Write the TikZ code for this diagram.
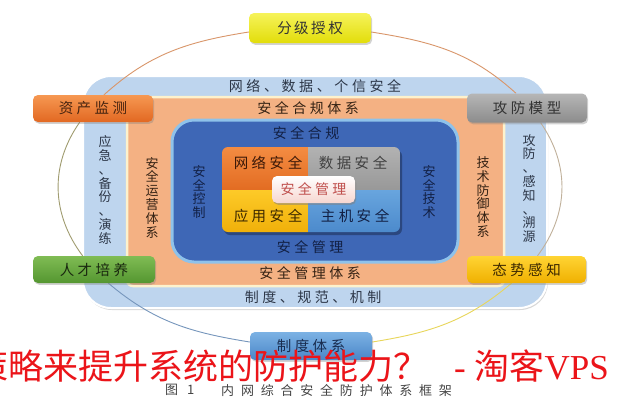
\documentclass[tikz,border=0pt]{standalone}
\usepackage{fontspec}
\newfontfamily\cjk{Noto Sans CJK SC}
\newfontfamily\lserif{Liberation Serif}
\usetikzlibrary{shadows}
\pgfdeclarelayer{base}
\pgfdeclarelayer{arcs}
\pgfsetlayers{base,arcs,main}
\definecolor{lblue}{RGB}{190,213,238}
\definecolor{peach}{RGB}{244,177,131}
\definecolor{cream}{RGB}{253,242,205}
\definecolor{dkblue}{RGB}{62,103,182}
\definecolor{dkbord}{RGB}{143,194,234}
\definecolor{q1t}{RGB}{244,140,66}
\definecolor{q1b}{RGB}{226,108,34}
\definecolor{q2t}{RGB}{178,178,178}
\definecolor{q2b}{RGB}{152,152,152}
\definecolor{q3t}{RGB}{253,202,40}
\definecolor{q3b}{RGB}{240,176,10}
\definecolor{q4t}{RGB}{104,165,222}
\definecolor{q4b}{RGB}{76,138,204}
\definecolor{fjt}{RGB}{246,243,90}
\definecolor{fjb}{RGB}{226,221,10}
\definecolor{zct}{RGB}{246,152,82}
\definecolor{zcb}{RGB}{226,104,34}
\definecolor{gft}{RGB}{182,182,182}
\definecolor{gfb}{RGB}{140,140,140}
\definecolor{rct}{RGB}{128,188,84}
\definecolor{rcb}{RGB}{84,150,48}
\definecolor{tst}{RGB}{255,212,52}
\definecolor{tsb}{RGB}{240,176,0}
\definecolor{zdt}{RGB}{124,178,228}
\definecolor{zdb}{RGB}{74,134,200}
\definecolor{pinkb}{RGB}{246,214,208}
\definecolor{redt}{RGB}{192,80,77}
\definecolor{lbtx}{RGB}{45,55,72}
\definecolor{pctx}{RGB}{52,34,20}
\definecolor{dbtx}{RGB}{18,32,68}
\definecolor{arcA}{RGB}{217,150,106}
\definecolor{arcC}{RGB}{192,176,154}
\definecolor{arcD}{RGB}{232,214,90}
\definecolor{arcE}{RGB}{118,150,188}
\definecolor{arcF}{RGB}{160,156,112}
\definecolor{captx}{RGB}{68,68,68}
\definecolor{wmred}{RGB}{235,20,25}
\ExplSyntaxOn
\NewDocumentCommand\spx{ m m }
 {
  \bool_set_true:N \l_tmpa_bool
  \tl_map_inline:nn {#2}
   {
    \bool_if:NTF \l_tmpa_bool { \bool_set_false:N \l_tmpa_bool } { \kern #1 \relax }
    ##1
   }
 }
\ExplSyntaxOff
\begin{document}
\begin{tikzpicture}[x=1pt,y=-1pt,
  bx/.style={rounded corners=5pt, minimum width=120pt, minimum height=28pt, inner sep=0pt,
    font=\cjk\fontsize{14.5}{14.5}\selectfont,
    drop shadow={opacity=0.35,shadow xshift=1.2pt,shadow yshift=-1.8pt}},
  lab/.style={inner sep=0pt, font=\cjk\fontsize{14}{14}\selectfont},
  qlab/.style={inner sep=0pt, font=\cjk\fontsize{14.5}{14.5}\selectfont},
  vlab/.style={inner sep=0pt, align=center, font=\cjk\fontsize{13}{13.8}\selectfont},
  arcline/.style={line width=0.9pt}]
\useasboundingbox (0,0) rectangle (620,400);
\begin{pgfonlayer}{base}
\fill[white] (0,0) rectangle (620,400);
\path[fill=lblue, draw=white, line width=2pt, rounded corners=28pt,
  drop shadow={opacity=0.3,shadow xshift=1pt,shadow yshift=-2pt}] (83,76) rectangle (547,308);
\path[fill=peach, draw=cream, line width=2.5pt, rounded corners=6pt] (127,97) rectangle (504,286);
\path[fill=dkblue, draw=dkbord, line width=3pt, rounded corners=22pt] (172,120) rectangle (458,262);
\fill[black, opacity=0.3, rounded corners=6pt] (224,150) rectangle (402,235);
\begin{scope}
\clip[rounded corners=6pt] (222,147) rectangle (400,232);
\shade[top color=q1t, bottom color=q1b] (222,147) rectangle (308,190);
\shade[top color=q2t, bottom color=q2b] (308,147) rectangle (400,190);
\shade[top color=q3t, bottom color=q3b] (222,190) rectangle (308,232);
\shade[top color=q4t, bottom color=q4b] (308,190) rectangle (400,232);
\end{scope}
\end{pgfonlayer}

% outer boxes
\node[bx, minimum width=122pt, minimum height=30pt, top color=fjt, bottom color=fjb, text=black!80] (fj) at (310,28) {\spx{2.5pt}{分级授权}};
\node[bx, minimum height=27pt, top color=zct, bottom color=zcb, text={rgb,255:red,70;green,35;blue,15}] (zc) at (93,108.5) {\spx{3.5pt}{资产监测}};
\node[bx, minimum height=29pt, top color=gft, bottom color=gfb, text=black!80] (gf) at (527,108) {\spx{3.5pt}{攻防模型}};
\node[bx, minimum width=122pt, minimum height=27pt, top color=rct, bottom color=rcb, text={rgb,255:red,25;green,40;blue,15}] (rc) at (94,269.5) {\spx{3.5pt}{人才培养}};
\node[bx, minimum width=119pt, minimum height=27pt, top color=tst, bottom color=tsb, text={rgb,255:red,60;green,40;blue,0}] (ts) at (526.5,269.5) {\spx{3.5pt}{态势感知}};
\node[bx, minimum width=122pt, minimum height=28pt, top color=zdt, bottom color=zdb, text={rgb,255:red,25;green,45;blue,80}] (zd) at (311,346) {\spx{3.5pt}{制度体系}};

% centre box
\node[bx, minimum width=83pt, minimum height=27pt, top color=white, bottom color=pinkb, text=redt,
  font=\cjk\fontsize{14}{14}\selectfont,
  drop shadow={opacity=0.3,shadow xshift=1pt,shadow yshift=-1.5pt}] (cm) at (313.5,189.5) {\spx{3.3pt}{安全管理}};

% region labels
\node[lab, text=lbtx] (l1) at (315,86) {\spx{3.6pt}{网络、数据、个信安全}};
\node[lab, text=pctx] (l2) at (308,108) {\spx{3.5pt}{安全合规体系}};
\node[lab, text=dbtx] (l3) at (306,133) {\spx{3.5pt}{安全合规}};
\node[lab, text=dbtx] (l4) at (310,247) {\spx{3.5pt}{安全管理}};
\node[lab, text=pctx] (l5) at (310,273) {\spx{3.5pt}{安全管理体系}};
\node[lab, text=lbtx] (l6) at (313,297) {\spx{3.5pt}{制度、规范、机制}};

% quadrant labels
\node[qlab, text={rgb,255:red,60;green,25;blue,8}] (q1) at (268,163) {\spx{3.5pt}{网络安全}};
\node[qlab, text=black!75] (q2) at (353,163) {\spx{3.5pt}{数据安全}};
\node[qlab, text={rgb,255:red,60;green,40;blue,0}] (q3) at (268,216) {\spx{3.5pt}{应用安全}};
\node[qlab, text=dbtx] (q4) at (355,216) {\spx{3.5pt}{主机安全}};

% vertical labels
\node[vlab, text=lbtx] (v1) at (105,190) {应\\急\\、\\备\\份\\、\\演\\练};
\node[vlab, text=pctx] (v2) at (152,197.5) {安\\全\\运\\营\\体\\系};
\node[vlab, text=dbtx, font=\cjk\fontsize{13}{13.4}\selectfont] (v3) at (199,192) {安\\全\\控\\制};
\node[vlab, text=dbtx, font=\cjk\fontsize{13}{13.4}\selectfont] (v4) at (429,192) {安\\全\\技\\术};
\node[vlab, text=pctx] (v5) at (483,197) {技\\术\\防\\御\\体\\系};
\node[vlab, text=lbtx] (v6) at (529,188.5) {攻\\防\\、\\感\\知\\、\\溯\\源};

% ellipse connectors
\begin{pgfonlayer}{arcs}
\draw[arcline, draw=arcA] ([yshift=-4pt]fj.west) to[out=189,in=42] ([xshift=11pt]zc.north);
\draw[arcline, draw=arcA] ([yshift=-4pt]fj.east) to[out=351,in=137.8] ([xshift=-11pt]gf.north);
\draw[arcline, draw=arcC] ([xshift=13.6pt]gf.south) to[out=304.8,in=53.1] ([xshift=11pt]ts.north);
\draw[arcline, draw=arcD] ([xshift=-15pt]ts.south) to[out=220.2,in=9.1] ([yshift=4pt]zd.east);
\draw[arcline, draw=arcE] ([yshift=4pt]zd.west) to[out=170.9,in=319.8] ([xshift=14.4pt]rc.south);
\draw[arcline, draw=arcF] ([xshift=-11.4pt]rc.north) to[out=126.9,in=235] ([xshift=-13.3pt]zc.south);
\end{pgfonlayer}

% caption
\node[inner sep=0pt, anchor=west, text=captx, font=\cjk\fontsize{13}{13}\selectfont] (cap1) at (165,390) {图\kern9pt 1};
\node[inner sep=0pt, anchor=west, text=captx, font=\cjk\fontsize{13}{13}\selectfont] (cap2) at (221,390) {\spx{6.8pt}{内网综合安全防护体系框架}};

% watermark
\node[inner sep=0pt, anchor=base west, text=wmred, font=\cjk\fontsize{35}{35}\selectfont] (wm1) at (-27,379) {策略来提升系统的防护能力？};
\node[inner sep=0pt, anchor=base east, text=wmred, font=\fontsize{35}{35}\selectfont] (wm2) at (609,379) {\lserif -\ \cjk 淘客\lserif VPS};
\end{tikzpicture}
\end{document}
